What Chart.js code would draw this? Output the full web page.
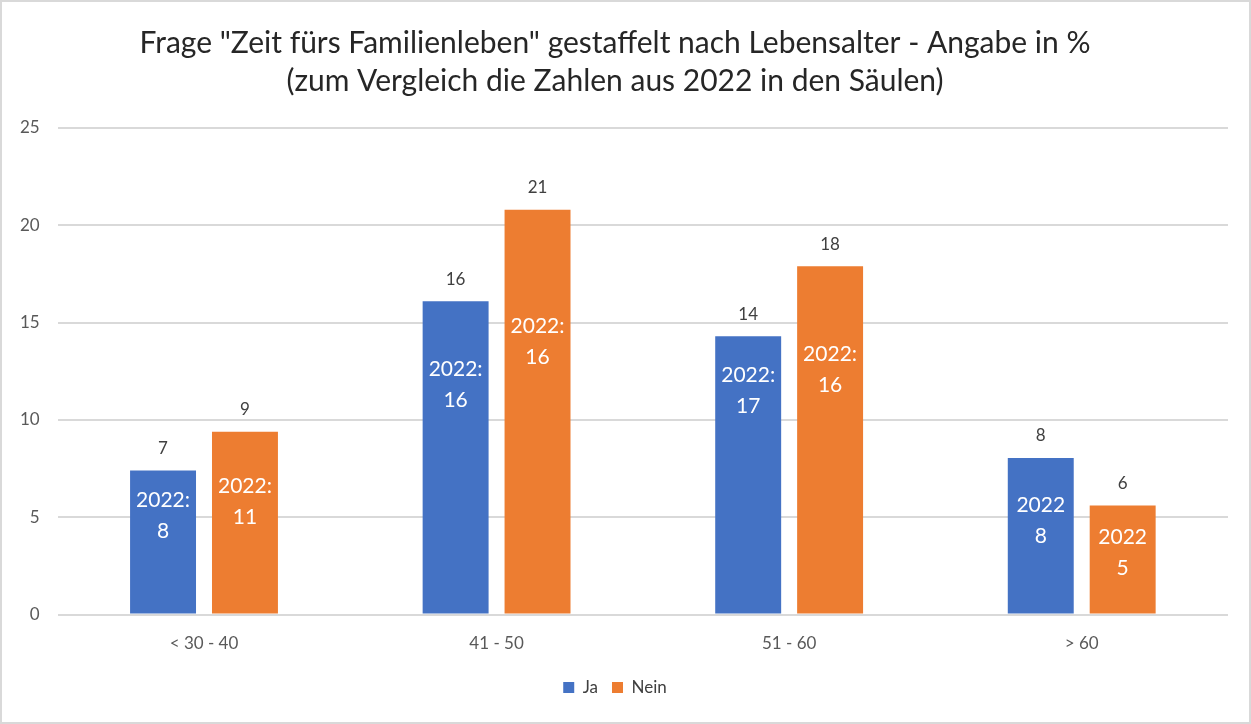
<!DOCTYPE html>
<html lang="de">
<head>
<meta charset="utf-8">
<title>Zeit fürs Familienleben</title>
<script src="https://cdn.jsdelivr.net/npm/chart.js@4/dist/chart.umd.min.js"></script>
<style>
  html, body { margin: 0; padding: 0; background: #fff; }
  #rahmen { width: 1251px; height: 724px; box-sizing: border-box; border: 2px solid #d9d9d9; position: relative; }
</style>
</head>
<body>
<div id="rahmen"><canvas id="grafik"></canvas></div>
<script>
const altersgruppen = ['< 30 - 40', '41 - 50', '51 - 60', '> 60'];
const werteJa = [7.4, 16.1, 14.3, 8.05];
const werteNein = [9.4, 20.8, 17.9, 5.6];
// Vergleichszahlen aus 2022 (stehen in den Säulen)
const vergleichJa = [8, 16, 17, 8];
const vergleichNein = [11, 16, 16, 5];
const vergleichTitel = ['2022:', '2022:', '2022:', '2022'];

const blau = '#4472C4';
const orange = '#ED7D31';

// wo der Text in der Säule steht (in Achsenwerten, Mitte erste Zeile)
const textLageJa = [5.9, 12.6, 12.3, 5.6];
const textLageNein = [6.6, 14.8, 13.4, 4.0];

const saeulenText = {
    id: 'saeulenText',
    afterDatasetsDraw(chart) {
        const ctx = chart.ctx;
        const yAchse = chart.scales.y;
        ctx.save();
        ctx.textAlign = 'center';
        ctx.textBaseline = 'middle';
        chart.data.datasets.forEach((ds, i) => {
            const meta = chart.getDatasetMeta(i);
            meta.data.forEach((bar, j) => {
                // Wert über der Säule
                ctx.fillStyle = '#404040';
                ctx.font = '17px Lato';
                ctx.fillText(String(Math.round(ds.data[j])), bar.x, bar.y - 22);

                // 2022 in der Säule
                const y = yAchse.getPixelForValue(ds.textLage[j]);
                ctx.fillStyle = '#ffffff';
                ctx.font = '21px Lato';
                ctx.fillText(vergleichTitel[j], bar.x, y);
                ctx.fillText(String(ds.vergleich[j]), bar.x, y + 31);
            });
        });
        ctx.restore();
    }
};

const ctx = document.getElementById('grafik').getContext('2d');
new Chart(ctx, {
    type: 'bar',
    data: {
        labels: altersgruppen,
        datasets: [{
            label: 'Ja',
            data: werteJa,
            vergleich: vergleichJa,
            textLage: textLageJa,
            backgroundColor: blau,
            borderColor: blau,
            categoryPercentage: 0.56,
            barPercentage: 0.805
        }, {
            label: 'Nein',
            data: werteNein,
            vergleich: vergleichNein,
            textLage: textLageNein,
            backgroundColor: orange,
            borderColor: orange,
            categoryPercentage: 0.56,
            barPercentage: 0.805
        }]
    },
    options: {
        responsive: true,
        maintainAspectRatio: false,
        animation: false,
        layout: {
            padding: { left: 0, right: 21, top: 22, bottom: 16 }
        },
        scales: {
            x: {
                grid: { display: false },
                border: { display: false },
                ticks: { color: '#595959', font: { size: 17, family: 'Lato' }, padding: 11 }
            },
            y: {
                min: 0,
                max: 25,
                ticks: { stepSize: 5, color: '#595959', font: { size: 17, family: 'Lato' }, padding: 18 },
                grid: { color: '#d9d9d9', lineWidth: 2, drawTicks: false },
                border: { display: false }
            }
        },
        plugins: {
            title: {
                display: true,
                text: ['Frage "Zeit fürs Familienleben" gestaffelt nach Lebensalter - Angabe in %',
                       '(zum Vergleich die Zahlen aus 2022 in den Säulen)'],
                color: '#262626',
                font: { size: 30, family: 'Lato', weight: 'normal', lineHeight: 1.25 },
                padding: { top: 1, bottom: 28 }
            },
            legend: {
                display: true,
                position: 'bottom',
                labels: {
                    color: '#404040',
                    font: { size: 17, family: 'Lato' },
                    boxWidth: 11,
                    boxHeight: 11,
                    padding: 14
                }
            },
            tooltip: { enabled: false }
        }
    },
    plugins: [saeulenText]
});
</script>
</body>
</html>
